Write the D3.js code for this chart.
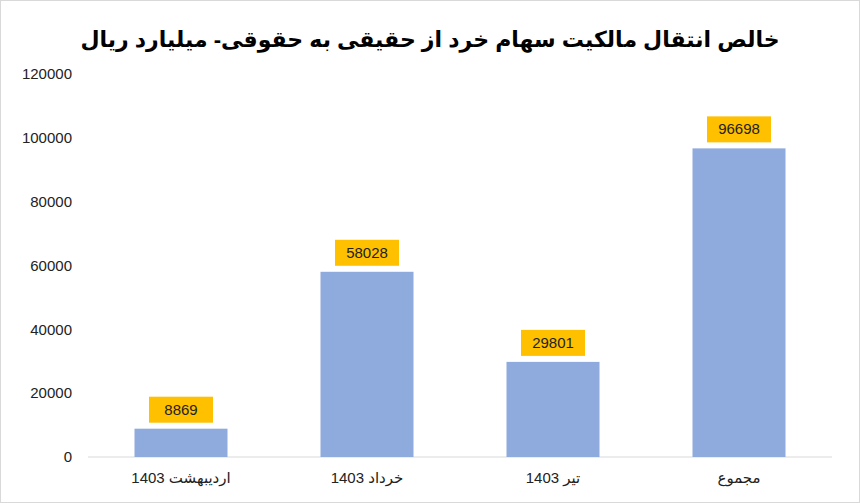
<!DOCTYPE html>
<html><head><meta charset="utf-8">
<script src="https://cdn.jsdelivr.net/npm/d3@7"></script>
<style>body{margin:0;background:#fff}</style></head>
<body><svg id="c" width="860" height="503"></svg>
<script>
const categories = ["اردیبهشت 1403", "خرداد 1403", "تیر 1403", "مجموع"];
const values = [8869, 58028, 29801, 96698];
const yTicks = [0, 20000, 40000, 60000, 80000, 100000, 120000];
const title = "خالص انتقال مالکیت سهام خرد از حقیقی به حقوقی- میلیارد ریال";

const svg = d3.select("#c");
svg.append("rect").attr("x",0.5).attr("y",0.5).attr("width",859).attr("height",502)
  .attr("fill","#fff").attr("stroke","#d9d9d9");
const x = d3.scaleBand().domain(categories).range([88, 832]).paddingInner(0.5).paddingOuter(0.25);
const y = d3.scaleLinear().domain([0, 120000]).range([457, 74]);

svg.append("text").attr("x",430).attr("y",47).attr("text-anchor","middle")
  .attr("direction","rtl").attr("font-family","Arial, 'DejaVu Sans', sans-serif")
  .attr("font-weight","bold").attr("font-size",22).attr("fill","#000").text(title);

const ya = svg.append("g").attr("transform","translate(72,0)")
  .call(d3.axisLeft(y).tickValues(yTicks).tickSize(0).tickPadding(0).tickFormat(d3.format("d")));
ya.select(".domain").remove();
ya.selectAll("text").attr("font-family","Arial, 'Liberation Sans', sans-serif").attr("font-size",15).attr("fill","#222");

svg.append("line").attr("x1",88).attr("x2",832).attr("y1",y(0)).attr("y2",y(0)).attr("stroke","#d9d9d9");

svg.selectAll(".bar").data(values).join("rect")
  .attr("x",(d,i)=>x(categories[i])).attr("width",x.bandwidth())
  .attr("y",d=>y(d)).attr("height",d=>y(0)-y(d)).attr("fill","#8faadc");

const lw = 64, lh = 26;
svg.selectAll(".lb").data(values).join("rect")
  .attr("x",(d,i)=>x(categories[i])+x.bandwidth()/2-lw/2).attr("y",d=>y(d)-lh-6)
  .attr("width",lw).attr("height",lh).attr("fill","#ffc000");
svg.selectAll(".lt").data(values).join("text")
  .attr("x",(d,i)=>x(categories[i])+x.bandwidth()/2).attr("y",d=>y(d)-6-lh/2+5)
  .attr("text-anchor","middle").attr("font-family","Arial, 'Liberation Sans', sans-serif")
  .attr("font-size",15).attr("fill","#222").text(d=>d);

svg.selectAll(".xl").data(categories).join("text")
  .attr("x",d=>x(d)+x.bandwidth()/2).attr("y",483).attr("text-anchor","middle")
  .attr("direction","rtl").attr("font-family","Arial, 'DejaVu Sans', sans-serif")
  .attr("font-size",15).attr("fill","#222").text(d=>d);
</script></body></html>
